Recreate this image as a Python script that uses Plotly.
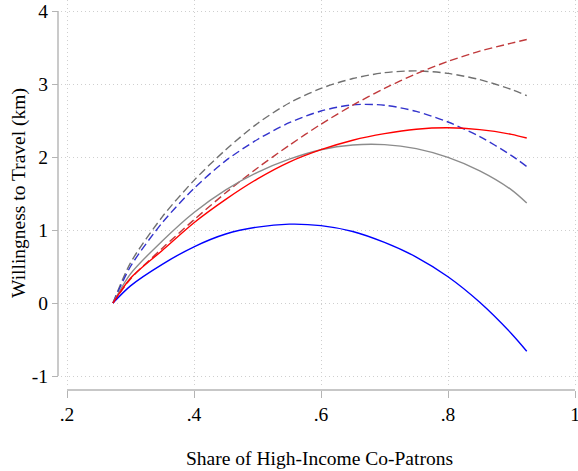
import plotly.graph_objects as go

# x positions (share of high-income co-patrons)
share = [0.2724, 0.30, 0.35, 0.40, 0.45, 0.50, 0.55, 0.60, 0.65, 0.70, 0.75, 0.80, 0.85, 0.90, 0.924]

# solid lines
blue_solid = [0, 0.235, 0.53, 0.77, 0.945, 1.04, 1.08, 1.06, 0.98, 0.83, 0.63, 0.36, 0.01, -0.42, -0.66]
gray_solid = [0, 0.40, 0.85, 1.24, 1.55, 1.79, 1.97, 2.10, 2.165, 2.17, 2.115, 1.995, 1.81, 1.55, 1.37]
red_solid = [0, 0.34, 0.72, 1.10, 1.42, 1.70, 1.93, 2.10, 2.23, 2.32, 2.38, 2.40, 2.375, 2.31, 2.26]

# dashed lines
blue_dash = [0, 0.50, 1.10, 1.57, 1.95, 2.24, 2.47, 2.63, 2.715, 2.71, 2.625, 2.48, 2.28, 2.02, 1.87]
gray_dash = [0, 0.55, 1.18, 1.68, 2.10, 2.46, 2.74, 2.94, 3.075, 3.155, 3.18, 3.145, 3.06, 2.925, 2.84]
red_dash = [0, 0.33, 0.75, 1.14, 1.51, 1.85, 2.16, 2.45, 2.71, 2.94, 3.14, 3.31, 3.45, 3.56, 3.61]

x_ticks = [0.2, 0.4, 0.6, 0.8, 1.0]
x_ticktext = [".2", ".4", ".6", ".8", "1"]
y_ticks = [-1, 0, 1, 2, 3, 4]
y_ticktext = ["-1", "0", "1", "2", "3", "4"]

FONT = "Liberation Serif, Times New Roman, serif"
DASH = "8px,4px"

series = [
    (gray_dash, "#707070", DASH),
    (blue_dash, "#3333cc", DASH),
    (red_dash, "#c0393b", DASH),
    (gray_solid, "#8c8c8c", "solid"),
    (blue_solid, "#0000ff", "solid"),
    (red_solid, "#ff0000", "solid"),
]

fig = go.Figure()
for ys, col, dash in series:
    fig.add_trace(go.Scatter(x=share, y=ys, mode="lines",
                             line=dict(color=col, width=1.4, dash=dash, shape="spline", smoothing=0.8),
                             showlegend=False, hoverinfo="skip"))

axis_col = "#b4b4b4"
grid_col = "#cfcfcf"

fig.update_layout(
    width=578, height=471,
    margin=dict(l=58, r=0, t=0, b=81),
    paper_bgcolor="white", plot_bgcolor="white",
    font=dict(family=FONT, size=19.5, color="#000000"),
    showlegend=False,
    xaxis=dict(
        domain=[3 / 520, 1], range=[0.19055, 1.00472],
        anchor="free", position=0, automargin=False,
        tickvals=x_ticks, ticktext=x_ticktext, ticklabeloverflow="allow",
        ticks="outside", ticklen=7, tickwidth=1.2, tickcolor=axis_col,
        showline=False, zeroline=False,
        showgrid=True, gridcolor=grid_col, griddash="1px,3px", gridwidth=1,
        tickfont=dict(family=FONT, size=19.5),
        title=dict(text="Share of High-Income Co-Patrons", font=dict(family=FONT, size=19.5), standoff=26),
    ),
    yaxis=dict(
        domain=[4 / 390, 1], range=[-1.137, 4.151],
        anchor="free", position=0, automargin=False,
        tickvals=y_ticks, ticktext=y_ticktext, ticklabeloverflow="allow",
        ticks="outside", ticklen=6, tickwidth=1.2, tickcolor=axis_col,
        showline=False, zeroline=False,
        showgrid=True, gridcolor=grid_col, griddash="1px,3px", gridwidth=1,
        tickfont=dict(family=FONT, size=19.5),
        title=dict(text="Willingness to Travel (km)", font=dict(family=FONT, size=19.5), standoff=0),
    ),
)

# axis lines spanning only the tick range (Stata style)
fig.add_shape(type="line", xref="x", yref="paper", x0=min(x_ticks), x1=max(x_ticks), y0=0, y1=0,
              line=dict(color=axis_col, width=1.4))
fig.add_shape(type="line", xref="paper", yref="y", x0=0, x1=0, y0=min(y_ticks), y1=max(y_ticks),
              line=dict(color=axis_col, width=1.4))

fig.write_html("out.html", config={"displayModeBar": False},
               post_script="document.body.style.margin='0';document.body.style.overflow='hidden';")
